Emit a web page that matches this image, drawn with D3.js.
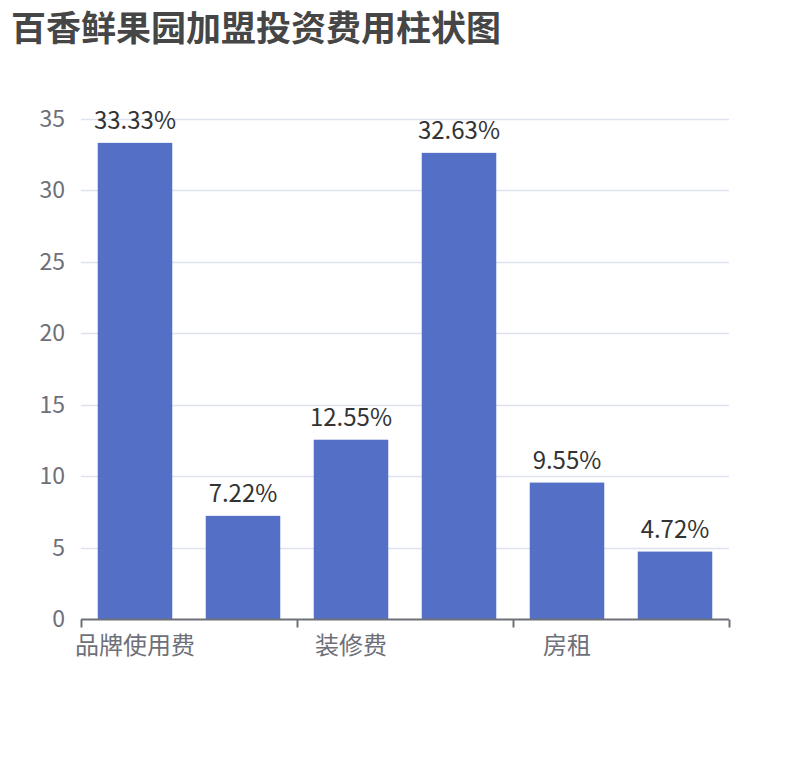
<!DOCTYPE html>
<html lang="zh">
<head>
    <meta charset="UTF-8">
    <title>百香鲜果园加盟投资费用柱状图</title>
    <script src="https://d3js.org/d3.v7.min.js"></script>
    <style>
        body {
            margin: 0;
            background: white;
            font-family: "Noto Sans CJK SC", "Noto Sans", sans-serif;
        }
    </style>
</head>
<body>
    <div id="chart"></div>
    <script>
        // data
        const categories = ["品牌使用费", "设备费", "装修费", "加盟费", "房租", "其他费用"];
        const values = [33.33, 7.22, 12.55, 32.63, 9.55, 4.72];
        const yTicks = [0, 5, 10, 15, 20, 25, 30, 35];

        const width = 810;
        const height = 760;
        const margin = {top: 119, right: 81, bottom: 140, left: 81};

        const svg = d3.select("#chart").append("svg")
            .attr("width", width)
            .attr("height", height);

        svg.append("text")
            .attr("x", 11)
            .attr("y", 41)
            .attr("font-size", 35)
            .attr("font-weight", "bold")
            .attr("fill", "#464646")
            .text("百香鲜果园加盟投资费用柱状图");

        const x = d3.scaleBand()
            .domain(categories)
            .range([margin.left, width - margin.right])
            .paddingInner(0.31)
            .paddingOuter(0.155);

        const y = d3.scaleLinear()
            .domain([0, 35])
            .range([height - margin.bottom - 1, margin.top]);

        // grid lines
        svg.append("g")
            .selectAll("line")
            .data(yTicks.filter(d => d > 0))
            .join("line")
            .attr("x1", margin.left)
            .attr("x2", width - margin.right)
            .attr("y1", d => Math.round(y(d)) + 0.5)
            .attr("y2", d => Math.round(y(d)) + 0.5)
            .attr("stroke", "#DDE2EE")
            .attr("stroke-width", 1.5);

        // y labels
        svg.append("g")
            .selectAll("text")
            .data(yTicks)
            .join("text")
            .attr("x", 65)
            .attr("y", d => y(d))
            .attr("dy", "0.35em")
            .attr("text-anchor", "end")
            .attr("font-size", 23)
            .attr("fill", "#6E7079")
            .text(d => d);

        // bars
        svg.append("g")
            .selectAll("rect")
            .data(values)
            .join("rect")
            .attr("x", (d, i) => x(categories[i]))
            .attr("y", d => y(d))
            .attr("width", x.bandwidth())
            .attr("height", d => y(0) - y(d))
            .attr("fill", "#5470C6");

        // value labels
        svg.append("g")
            .selectAll("text")
            .data(values)
            .join("text")
            .attr("x", (d, i) => x(categories[i]) + x.bandwidth() / 2)
            .attr("y", d => y(d) - 14)
            .attr("text-anchor", "middle")
            .attr("font-size", 24)
            .attr("fill", "#333")
            .text(d => d.toFixed(2) + "%");

        // x axis
        const y0 = Math.round(y(0)) + 0.5;
        const step = x.step();
        svg.append("line")
            .attr("x1", margin.left)
            .attr("x2", width - margin.right)
            .attr("y1", y0)
            .attr("y2", y0)
            .attr("stroke", "#6E7079")
            .attr("stroke-width", 2);

        const tickIdx = d3.range(0, categories.length + 1, 2);
        svg.append("g")
            .selectAll("line")
            .data(tickIdx)
            .join("line")
            .attr("x1", i => Math.round(margin.left + i * step) + 0.5)
            .attr("x2", i => Math.round(margin.left + i * step) + 0.5)
            .attr("y1", y0)
            .attr("y2", y0 + 8)
            .attr("stroke", "#6E7079")
            .attr("stroke-width", 2);

        svg.append("g")
            .selectAll("text")
            .data(categories.filter((d, i) => i % 2 === 0))
            .join("text")
            .attr("x", d => x(d) + x.bandwidth() / 2)
            .attr("y", y0 + 26)
            .attr("dy", "0.35em")
            .attr("text-anchor", "middle")
            .attr("font-size", 24)
            .attr("fill", "#6E7079")
            .text(d => d);
    </script>
</body>
</html>
